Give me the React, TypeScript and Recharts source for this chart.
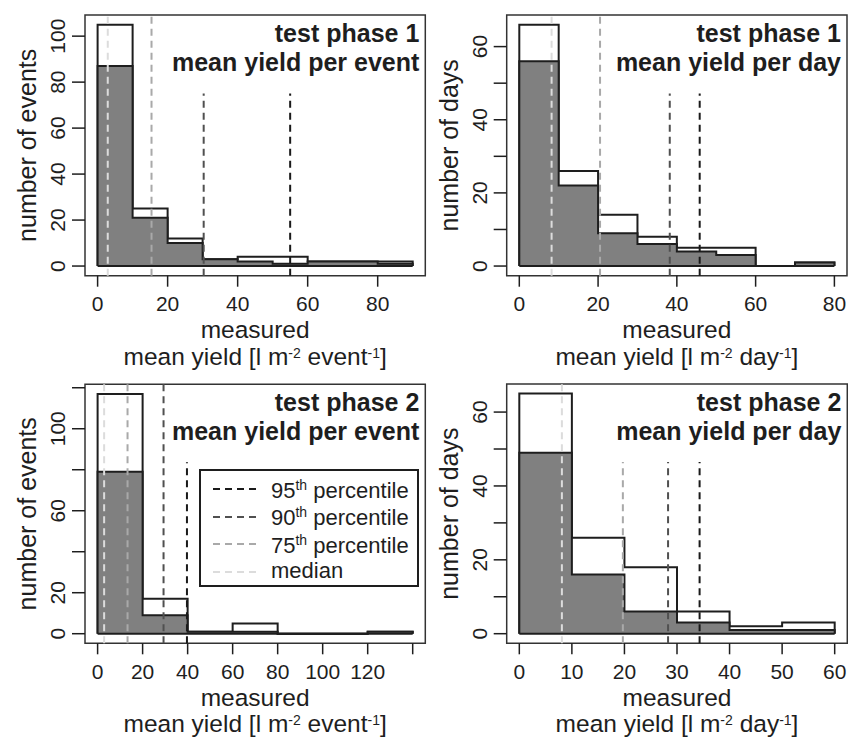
import {
  ComposedChart,
  Area,
  XAxis,
  YAxis,
  ReferenceLine,
  ReferenceArea,
  Legend,
} from "recharts";

// bin edges, all days/events (white) and the subset (grey)
// test phase 1, mean yield per event
const p1Edges = [0, 10, 20, 30, 40, 50, 60, 70, 80, 90];
const p1All = [105, 25, 12, 3, 4, 4, 2, 2, 2];
const p1Sub = [87, 21, 10, 3, 2, 1, 2, 2, 1];
const p1Pct = [55, 30.3, 15.4, 2.9]; // 95th, 90th, 75th, median
const p1Short = [true, true, false, false];
const p1XTicks = [0, 20, 40, 60, 80];
const p1XLabels = [0, 20, 40, 60, 80];
const p1YTicks = [0, 20, 40, 60, 80, 100];
const p1YLabels = [0, 20, 40, 60, 80, 100];

// test phase 1, mean yield per day
const p2Edges = [0, 10, 20, 30, 40, 50, 60, 70, 80];
const p2All = [66, 26, 14, 8, 5, 5, 0, 1];
const p2Sub = [56, 22, 9, 6, 4, 3, 0, 1];
const p2Pct = [45.8, 38.2, 20.5, 8.2];
const p2Short = [true, true, false, false];
const p2XTicks = [0, 20, 40, 60, 80];
const p2XLabels = [0, 20, 40, 60, 80];
const p2YTicks = [0, 10, 20, 30, 40, 50, 60];
const p2YLabels = [0, 20, 40, 60];

// test phase 2, mean yield per event
const p3Edges = [0, 20, 40, 60, 80, 100, 120, 140];
const p3All = [117, 17, 1, 5, 0, 0, 1];
const p3Sub = [79, 9, 1, 1, 0, 0, 1];
const p3Pct = [39.7, 29.3, 13.3, 2.9];
const p3Short = [true, false, false, false];
const p3XTicks = [0, 20, 40, 60, 80, 100, 120, 140];
const p3XLabels = [0, 20, 40, 60, 80, 100, 120];
const p3YTicks = [0, 20, 40, 60, 80, 100, 120];
const p3YLabels = [0, 20, 60, 100];

// test phase 2, mean yield per day
const p4Edges = [0, 10, 20, 30, 40, 50, 60];
const p4All = [65, 26, 18, 6, 2, 3];
const p4Sub = [49, 16, 6, 3, 1, 1];
const p4Pct = [34.3, 28.3, 19.7, 8.1];
const p4Short = [true, true, true, false];
const p4XTicks = [0, 10, 20, 30, 40, 50, 60];
const p4XLabels = [0, 10, 20, 30, 40, 50, 60];
const p4YTicks = [0, 10, 20, 30, 40, 50, 60];
const p4YLabels = [0, 20, 40, 60];

const pctLabels = ["95th percentile", "90th percentile", "75th percentile", "median"];
const pctColors = ["#1a1a1a", "#505050", "#a9a9a9", "#dcdcdc"];

const FONT = "'Liberation Sans', Arial, Helvetica, sans-serif";
const INK = "#1e1e1e";
const W = 430;
const H = 370;
const YAXIS_W = 60;
const XAXIS_H = 40;

function stepRows(edges: number[], all: number[], sub: number[]) {
  const n = all.length;
  const rows = [{ x: edges[0], all: 0, sub: 0 }];
  for (let i = 0; i < n; i++) rows.push({ x: edges[i], all: all[i], sub: sub[i] });
  rows.push({ x: edges[n], all: all[n - 1], sub: sub[n - 1] });
  rows.push({ x: edges[n], all: 0, sub: 0 });
  return rows;
}

function pctText(label: string) {
  const m = label.match(/^(\d+)th (.*)$/);
  if (!m) return label;
  return (
    <>
      {m[1]}
      <sup style={{ fontSize: 14 }}>th</sup> {m[2]}
    </>
  );
}

function PctLegend() {
  return (
    <div
      style={{
        width: 220,
        height: 118,
        boxSizing: "border-box",
        border: `2px solid ${INK}`,
        background: "#fff",
        paddingTop: 3,
        fontFamily: FONT,
        fontSize: 22,
        color: INK,
      }}
    >
      {pctLabels.map((lab, i) => (
        <div key={lab} style={{ display: "flex", alignItems: "center", height: 27.5, lineHeight: "27px" }}>
          <svg width={70} height={27}>
            <line x1={12} x2={59} y1={15} y2={15} stroke={pctColors[i]} strokeWidth={2} strokeDasharray="7 5" />
          </svg>
          <span>{pctText(lab)}</span>
        </div>
      ))}
    </div>
  );
}

interface PanelProps {
  left: number;
  top: number;
  plotL: number;
  plotR: number;
  plotT: number;
  plotB: number;
  edges: number[];
  all: number[];
  sub: number[];
  pct: number[];
  short: boolean[];
  xTicks: number[];
  xLabels: number[];
  yTicks: number[];
  yLabels: number[];
  title: string[];
  yTitle: string;
  unit: string;
  legend?: boolean;
}

function Panel(p: PanelProps) {
  const xMin = p.edges[0];
  const xMax = p.edges[p.edges.length - 1];
  const xExt = (xMax - xMin) * 0.04;
  const yMax = Math.max(...p.all);
  const yExt = yMax * 0.04;
  const xDom = [xMin - xExt, xMax + xExt];
  const yDom = [-yExt, yMax + yExt];
  const rows = stepRows(p.edges, p.all, p.sub);
  const margin = {
    top: p.plotT,
    left: p.plotL - YAXIS_W,
    right: W - p.plotR,
    bottom: H - p.plotB - XAXIS_H,
  };
  const midX = (p.plotL + p.plotR) / 2;
  const midY = (p.plotT + p.plotB) / 2;
  const yLabX = p.plotL - 20;
  const yTitleX = p.plotL - 49;

  return (
    <div style={{ position: "absolute", left: p.left, top: p.top, width: W, height: H }}>
      <ComposedChart width={W} height={H} data={rows} margin={margin}>
        <XAxis
          type="number"
          dataKey="x"
          domain={xDom}
          ticks={p.xTicks}
          interval={0}
          tickSize={11}
          axisLine={false}
          tickLine={{ stroke: INK, strokeWidth: 1.5 }}
          height={XAXIS_H}
          tick={(t: any) =>
            p.xLabels.includes(t.payload.value) ? (
              <text x={t.x} y={p.plotB + 35.5} textAnchor="middle" fontSize={21} fill={INK} fontFamily={FONT}>
                {t.payload.value}
              </text>
            ) : (
              <g />
            )
          }
        />
        <YAxis
          type="number"
          domain={yDom}
          ticks={p.yTicks}
          interval={0}
          tickSize={13}
          axisLine={false}
          tickLine={{ stroke: INK, strokeWidth: 1.5 }}
          width={YAXIS_W}
          tick={(t: any) =>
            p.yLabels.includes(t.payload.value) ? (
              <text
                x={yLabX}
                y={t.y}
                transform={`rotate(-90 ${yLabX} ${t.y})`}
                textAnchor="middle"
                fontSize={21}
                fill={INK}
                fontFamily={FONT}
              >
                {t.payload.value}
              </text>
            ) : (
              <g />
            )
          }
        />
        <ReferenceArea
          x1={xDom[0]}
          x2={xDom[1]}
          y1={yDom[0]}
          y2={yDom[1]}
          fill="none"
          stroke="#333"
          strokeWidth={1.5}
        />
        <Area
          type="stepAfter"
          dataKey="all"
          baseValue={0}
          fill="#ffffff"
          fillOpacity={1}
          stroke={INK}
          strokeWidth={2}
          dot={false}
          activeDot={false}
          isAnimationActive={false}
        />
        <Area
          type="stepAfter"
          dataKey="sub"
          baseValue={0}
          fill="#808080"
          fillOpacity={1}
          stroke={INK}
          strokeWidth={2}
          dot={false}
          activeDot={false}
          isAnimationActive={false}
        />
        <ReferenceLine
          segment={[
            { x: xMin, y: 0 },
            { x: xMax, y: 0 },
          ]}
          stroke={INK}
          strokeWidth={2}
        />
        {p.pct.map((v, i) => (
          <ReferenceLine
            key={pctLabels[i]}
            segment={[
              { x: v, y: yDom[0] },
              { x: v, y: p.short[i] ? yMax * 0.715 : yDom[1] },
            ]}
            stroke={pctColors[i]}
            strokeWidth={2}
            strokeDasharray="7 5"
          />
        ))}
        {p.legend && (
          <Legend
            layout="vertical"
            align="center"
            verticalAlign="middle"
            content={<PctLegend />}
            wrapperStyle={{ left: 199, top: 99, width: 220, height: 118 }}
          />
        )}
      </ComposedChart>
      <svg
        width={W}
        height={H}
        style={{ position: "absolute", left: 0, top: 0, pointerEvents: "none" }}
        fontFamily={FONT}
        fill={INK}
      >
        <text x={p.plotR - 6} y={p.plotT + 27} textAnchor="end" fontWeight="bold" fontSize={25}>
          <tspan x={p.plotR - 6}>{p.title[0]}</tspan>
          <tspan x={p.plotR - 6} dy={29}>
            {p.title[1]}
          </tspan>
        </text>
        <text x={midX} y={p.plotB + 62.5} textAnchor="middle" fontSize={24.5}>
          measured
        </text>
        <text x={midX} y={p.plotB + 89} textAnchor="middle" fontSize={24.5}>
          mean yield [l m
          <tspan dy={-7} fontSize={14}>
            -2
          </tspan>
          <tspan dy={7}> {p.unit}</tspan>
          <tspan dy={-7} fontSize={14}>
            -1
          </tspan>
          <tspan dy={7}>]</tspan>
        </text>
        <text
          x={yTitleX}
          y={midY}
          transform={`rotate(-90 ${yTitleX} ${midY})`}
          textAnchor="middle"
          fontSize={25}
        >
          {p.yTitle}
        </text>
      </svg>
    </div>
  );
}

export default function App() {
  return (
    <div style={{ position: "absolute", left: 0, top: 0, width: 848, height: 740, background: "#fff" }}>
      <Panel
        left={0}
        top={0}
        plotL={85}
        plotR={425.3}
        plotT={15}
        plotB={275.7}
        edges={p1Edges}
        all={p1All}
        sub={p1Sub}
        pct={p1Pct}
        short={p1Short}
        xTicks={p1XTicks}
        xLabels={p1XLabels}
        yTicks={p1YTicks}
        yLabels={p1YLabels}
        title={["test phase 1", "mean yield per event"]}
        yTitle="number of events"
        unit="event"
      />
      <Panel
        left={424}
        top={0}
        plotL={82.7}
        plotR={423}
        plotT={15}
        plotB={275.7}
        edges={p2Edges}
        all={p2All}
        sub={p2Sub}
        pct={p2Pct}
        short={p2Short}
        xTicks={p2XTicks}
        xLabels={p2XLabels}
        yTicks={p2YTicks}
        yLabels={p2YLabels}
        title={["test phase 1", "mean yield per day"]}
        yTitle="number of days"
        unit="day"
      />
      <Panel
        left={0}
        top={370}
        plotL={85}
        plotR={425.3}
        plotT={14.3}
        plotB={273.3}
        edges={p3Edges}
        all={p3All}
        sub={p3Sub}
        pct={p3Pct}
        short={p3Short}
        xTicks={p3XTicks}
        xLabels={p3XLabels}
        yTicks={p3YTicks}
        yLabels={p3YLabels}
        title={["test phase 2", "mean yield per event"]}
        yTitle="number of events"
        unit="event"
        legend
      />
      <Panel
        left={424}
        top={370}
        plotL={82.7}
        plotR={423.3}
        plotT={14}
        plotB={273.3}
        edges={p4Edges}
        all={p4All}
        sub={p4Sub}
        pct={p4Pct}
        short={p4Short}
        xTicks={p4XTicks}
        xLabels={p4XLabels}
        yTicks={p4YTicks}
        yLabels={p4YLabels}
        title={["test phase 2", "mean yield per day"]}
        yTitle="number of days"
        unit="day"
      />
    </div>
  );
}
